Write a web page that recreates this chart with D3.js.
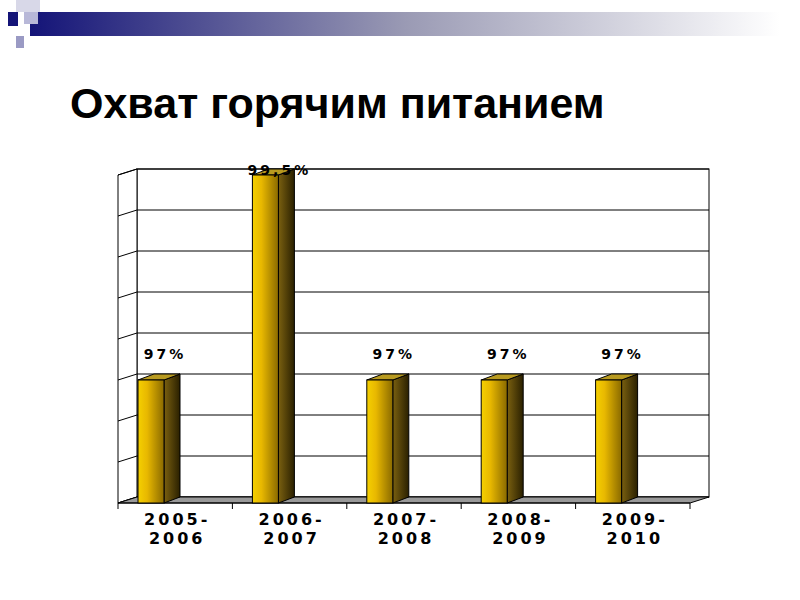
<!DOCTYPE html><html><head><meta charset="utf-8"><script src="https://cdn.jsdelivr.net/npm/d3@7"></script>
<style>body{margin:0;background:#fff}</style></head><body><svg id="c" width="800" height="600"></svg>
<script>
const categories=[["2005-","2006"],["2006-","2007"],["2007-","2008"],["2008-","2009"],["2009-","2010"]];
const values=[97,99.5,97,97,97];
const valueLabels=["97%","99,5%","97%","97%","97%"];
const svg=d3.select("#c");
const defs=svg.append("defs");
const g1=defs.append("linearGradient").attr("id","hb");
g1.append("stop").attr("offset",0).attr("stop-color","#141478");
g1.append("stop").attr("offset",0.5).attr("stop-color","#9a9ab4");
g1.append("stop").attr("offset",1).attr("stop-color","#ffffff");
svg.append("rect").attr("x",30).attr("y",12).attr("width",750).attr("height",24).attr("fill","url(#hb)");
svg.append("rect").attr("x",16).attr("y",0).attr("width",24).attr("height",12).attr("fill","#d8d8e8");
svg.append("rect").attr("x",8).attr("y",12).attr("width",10).attr("height",14).attr("fill","#141478");
svg.append("rect").attr("x",24).attr("y",12).attr("width",14).attr("height",12).attr("fill","#b8b8d8");
svg.append("rect").attr("x",16).attr("y",36).attr("width",8).attr("height",12).attr("fill","#9a9ac4");
const fg=defs.append("linearGradient").attr("id","front");
fg.append("stop").attr("offset",0).attr("stop-color","#f5d000");
fg.append("stop").attr("offset",0.35).attr("stop-color","#e8b800");
fg.append("stop").attr("offset",1).attr("stop-color","#8a6a00");
const sg=defs.append("linearGradient").attr("id","side");
sg.append("stop").attr("offset",0).attr("stop-color","#7a6010");
sg.append("stop").attr("offset",1).attr("stop-color","#2a2000");
svg.append("text").attr("x",70).attr("y",118).attr("font-family","Liberation Sans, Arial").attr("font-weight","bold").attr("font-size",43).text("Охват горячим питанием");
const dx=19,dy=-6;
const x=d3.scaleBand().domain(d3.range(5)).range([118,690]);
const y=d3.scaleLinear().domain([95.5,99.5]).range([503,175]);
const grid=d3.range(95.5,99.51,0.5);
svg.append("rect").attr("x",118+dx).attr("y",y(99.5)+dy).attr("width",572).attr("height",y(95.5)-y(99.5)).attr("fill","#fff").attr("stroke","#000");
svg.selectAll(".gl").data(grid).join("line").attr("x1",118+dx).attr("x2",690+dx).attr("y1",d=>y(d)+dy).attr("y2",d=>y(d)+dy).attr("stroke","#000");
svg.append("path").attr("d",`M118,${y(95.5)}L118,${y(99.5)}L${118+dx},${y(99.5)+dy}L${118+dx},${y(95.5)+dy}Z`).attr("fill","#fff").attr("stroke","#000");
svg.selectAll(".lt").data(grid).join("line").attr("x1",118).attr("x2",118+dx).attr("y1",d=>y(d)).attr("y2",d=>y(d)+dy).attr("stroke","#000");
svg.append("path").attr("d",`M118,${y(95.5)}L690,${y(95.5)}L${690+dx},${y(95.5)+dy}L${118+dx},${y(95.5)+dy}Z`).attr("fill","#999").attr("stroke","#000");
svg.append("line").attr("x1",118).attr("x2",690).attr("y1",503).attr("y2",503).attr("stroke","#000");
svg.selectAll(".tk").data(d3.range(6)).join("line").attr("x1",d=>118+d*x.step()).attr("x2",d=>118+d*x.step()).attr("y1",503).attr("y2",509).attr("stroke","#000");
const bw=26;
values.forEach((v,i)=>{
 const x0=x(i)+20, top=y(v), bot=y(95.5);
 svg.append("path").attr("d",`M${x0+bw},${bot}L${x0+bw},${top}L${x0+bw+16},${top+dy}L${x0+bw+16},${bot+dy}Z`).attr("fill","url(#side)").attr("stroke","#000");
 svg.append("path").attr("d",`M${x0},${top}L${x0+16},${top+dy}L${x0+bw+16},${top+dy}L${x0+bw},${top}Z`).attr("fill","#b89a20").attr("stroke","#000");
 svg.append("rect").attr("x",x0).attr("y",top).attr("width",bw).attr("height",bot-top).attr("fill","url(#front)").attr("stroke","#000");
 svg.append("text").attr("x",x0+bw/2+14).attr("y",i==1?top:top-21).attr("text-anchor","middle").attr("font-family","DejaVu Sans").attr("font-weight","bold").attr("font-size",14).attr("letter-spacing",3).text(valueLabels[i]);
 categories[i].forEach((t,k)=>svg.append("text").attr("x",x(i)+x.bandwidth()/2+2).attr("y",525+k*19).attr("text-anchor","middle").attr("font-family","DejaVu Sans").attr("font-weight","bold").attr("font-size",16).attr("letter-spacing",3).text(t));
});
</script></body></html>
